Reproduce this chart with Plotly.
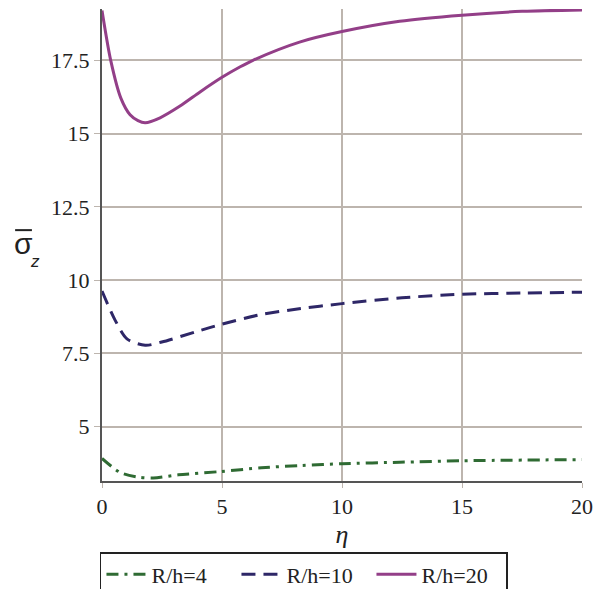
import plotly.graph_objects as go

# R/h = 20
eta_20 = [0, 0.37, 0.79, 1.17, 1.5, 1.8, 2.42, 3.25, 4.1, 5, 5.76, 6.29, 8.23, 10, 12.4, 15, 17.5, 20]
sig_20 = [19.2, 17.47, 16.2, 15.64, 15.44, 15.37, 15.54, 15.94, 16.43, 16.92, 17.28, 17.5, 18.12, 18.48, 18.83, 19.04, 19.17, 19.22]

# R/h = 10
eta_10 = [0, 0.55, 1.04, 1.8, 2.49, 3.87, 5, 6.64, 8, 10, 12.5, 15, 17.5, 20]
sig_10 = [9.63, 8.63, 8.0, 7.78, 7.89, 8.23, 8.5, 8.83, 9.0, 9.2, 9.4, 9.52, 9.56, 9.59]

# R/h = 4
eta_4 = [0, 0.76, 1.52, 2.14, 3.18, 4.9, 6.64, 8.3, 10, 12.4, 15, 20]
sig_4 = [3.92, 3.44, 3.28, 3.25, 3.36, 3.47, 3.6, 3.68, 3.74, 3.79, 3.84, 3.88]

x_ticks = [0, 5, 10, 15, 20]
y_ticks = [5, 7.5, 10, 12.5, 15, 17.5]
y_tick_text = ["5", "7.5", "10", "12.5", "15", "17.5"]

FONT = "Liberation Serif, Times New Roman, serif"
SANS = "Liberation Sans, Arial, sans-serif"
GRID = "#bdb5ae"

fig = go.Figure()
fig.add_trace(go.Scatter(x=eta_4, y=sig_4, mode="lines", name="R/h=4",
                         line=dict(color="#2f6b33", width=3, dash="12px,6px,3px,6px",
                                   shape="spline", smoothing=0.8)))
fig.add_trace(go.Scatter(x=eta_10, y=sig_10, mode="lines", name="R/h=10",
                         line=dict(color="#2e2767", width=3, dash="14px,8px",
                                   shape="spline", smoothing=0.8)))
fig.add_trace(go.Scatter(x=eta_20, y=sig_20, mode="lines", name="R/h=20",
                         line=dict(color="#933f88", width=3, shape="spline", smoothing=0.8)))

fig.update_layout(
    width=609, height=589,
    margin=dict(l=94, r=35, t=1, b=116),
    paper_bgcolor="white", plot_bgcolor="white",
    font=dict(family=FONT, size=22, color="#222"),
    showlegend=True,
    legend=dict(orientation="h", xref="container", yref="container",
                x=0.151, y=0.0764, xanchor="left", yanchor="top",
                bordercolor="#222", borderwidth=1.5, font=dict(family=FONT, size=22),
                itemwidth=40, entrywidth=80, entrywidthmode="pixels",
                tracegroupgap=0, bgcolor="white"),
    xaxis=dict(range=[0, 20], tickvals=x_ticks, showgrid=True, gridcolor=GRID, gridwidth=1.5,
               showline=True, linecolor="#555", linewidth=2, zeroline=False, automargin=False,
               ticks="outside", ticklen=5, tickcolor=GRID, tickfont=dict(family=FONT, size=22),
               title=dict(text="<i>η</i>", font=dict(family=FONT, size=26), standoff=6)),
    yaxis=dict(range=[3.15, 19.25], tickvals=y_ticks, ticktext=y_tick_text, showgrid=True,
               gridcolor=GRID, gridwidth=1.5, showline=True, linecolor="#555", linewidth=2,
               zeroline=False, automargin=False, ticks="outside", ticklen=6, tickcolor=GRID,
               tickfont=dict(family=FONT, size=22)),
)

# y-axis label: sigma with overline and subscript z
fig.add_annotation(text="σ", xref="paper", yref="paper", x=-0.1635, y=0.504,
                   showarrow=False, font=dict(family=SANS, size=30, color="#222"),
                   xanchor="center", yanchor="middle")
fig.add_annotation(text="<i>z</i>", xref="paper", yref="paper", x=-0.139, y=0.464,
                   showarrow=False, font=dict(family=SANS, size=17, color="#222"),
                   xanchor="center", yanchor="middle")
fig.add_shape(type="line", xref="paper", yref="paper", x0=-0.181, x1=-0.146, y0=0.5315, y1=0.5315,
              line=dict(color="#222", width=2))

fig.write_html("out.html")
